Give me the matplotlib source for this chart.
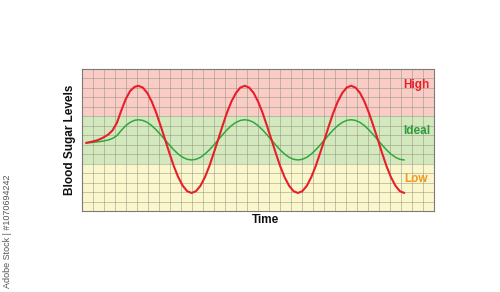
import matplotlib
matplotlib.use("Agg")
import matplotlib.pyplot as plt

plt.rcParams['font.family'] = ['Liberation Sans', 'DejaVu Sans']

# ---- data (grid units: x 0..32 columns, y 0..15 rows) ----
bands = ["Low", "Ideal", "High"]
band_edges = [0, 5, 10, 15]
band_colors = ["#fbf7cc", "#d4e8be", "#f9cdc5"]
label_colors = ["#f0981e", "#2e9c3e", "#e8202c"]
label_y = [3.4, 8.4, 13.3]

time = [0.4, 0.9, 1.4, 1.9, 2.4, 2.8, 3.2, 3.6, 4.0, 4.4, 4.8,
        5.15, 5.55, 5.96, 6.36, 6.76, 7.16, 7.57, 7.97, 8.37, 8.77,
        9.18, 9.58, 9.98, 10.38, 10.79, 11.19, 11.59, 11.99, 12.40, 12.80,
        13.20, 13.60, 14.01, 14.41, 14.81, 15.21, 15.62, 16.02, 16.42, 16.82,
        17.23, 17.63, 18.03, 18.43, 18.84, 19.24, 19.64, 20.04, 20.45, 20.85,
        21.25, 21.65, 22.06, 22.46, 22.86, 23.26, 23.67, 24.07, 24.47, 24.87,
        25.28, 25.68, 26.08, 26.48, 26.89, 27.29, 27.69, 28.09, 28.50, 28.90,
        29.30]

red_level = [7.18, 7.30, 7.45, 7.70, 8.05, 8.50, 9.30, 10.60, 11.80, 12.65, 13.08,
             13.20, 13.01, 12.44, 11.54, 10.38, 9.01, 7.55, 6.09, 4.72, 3.56,
             2.66, 2.09, 1.90, 2.09, 2.66, 3.56, 4.72, 6.09, 7.55, 9.01,
             10.38, 11.54, 12.44, 13.01, 13.20, 13.01, 12.44, 11.54, 10.38, 9.01,
             7.55, 6.09, 4.72, 3.56, 2.66, 2.09, 1.90, 2.09, 2.66, 3.56,
             4.72, 6.09, 7.55, 9.01, 10.38, 11.54, 12.44, 13.01, 13.20, 13.01,
             12.44, 11.54, 10.38, 9.01, 7.55, 6.09, 4.72, 3.56, 2.66, 2.09,
             1.90]

green_level = [7.18, 7.22, 7.28, 7.36, 7.48, 7.65, 7.95, 8.50, 9.00, 9.35, 9.56,
               9.62, 9.55, 9.34, 9.00, 8.56, 8.05, 7.50, 6.95, 6.44, 6.00,
               5.66, 5.45, 5.38, 5.45, 5.66, 6.00, 6.44, 6.95, 7.50, 8.05,
               8.56, 9.00, 9.34, 9.55, 9.62, 9.55, 9.34, 9.00, 8.56, 8.05,
               7.50, 6.95, 6.44, 6.00, 5.66, 5.45, 5.38, 5.45, 5.66, 6.00,
               6.44, 6.95, 7.50, 8.05, 8.56, 9.00, 9.34, 9.55, 9.62, 9.55,
               9.34, 9.00, 8.56, 8.05, 7.50, 6.95, 6.44, 6.00, 5.66, 5.45,
               5.38]

x_cols = 32
y_rows = 15

fig = plt.figure(figsize=(5.0, 2.92), dpi=100)
fig.patch.set_facecolor("white")
ax = fig.add_axes([0.1634, 0.2774, 0.7046, 0.4873])

for i in range(len(bands)):
    ax.axhspan(band_edges[i], band_edges[i + 1], color=band_colors[i], zorder=0, lw=0)

for gx in range(1, x_cols):
    ax.axvline(gx, color="#8a8a7c", lw=0.6, alpha=0.55, zorder=1)
for gy in range(1, y_rows):
    ax.axhline(gy, color="#8a8a7c", lw=0.6, alpha=0.55, zorder=1)

ax.plot(time, green_level, color="#2ea83e", lw=1.1, zorder=3, solid_capstyle="round")
ax.plot(time, red_level, color="#e81e2a", lw=1.5, zorder=4, solid_capstyle="round")

for i in range(len(bands)):
    ax.text(30.4, label_y[i], bands[i], color=label_colors[i], fontsize=8.5,
            fontweight="bold", ha="center", va="center", zorder=5)

ax.set_xlim(0, x_cols)
ax.set_ylim(0, y_rows)
ax.set_xticks([])
ax.set_yticks([])
for s in ax.spines.values():
    s.set_color("#7a7a7a")
    s.set_linewidth(0.8)

fig.text(70 / 500, 1 - 140 / 292, "Blood Sugar Levels", rotation=90, fontsize=8.5,
         fontweight="bold", ha="center", va="center", color="#111111")
fig.text(265.5 / 500, 1 - 220 / 292, "Time", fontsize=8.5, fontweight="bold",
         ha="center", va="center", color="#111111")
fig.text(8 / 500, 1 - 174 / 292, "Adobe Stock | #1070694242", rotation=90, fontsize=6.5,
         ha="center", va="top", color="#555555")

fig.savefig("out.png", dpi=100, facecolor="white")
